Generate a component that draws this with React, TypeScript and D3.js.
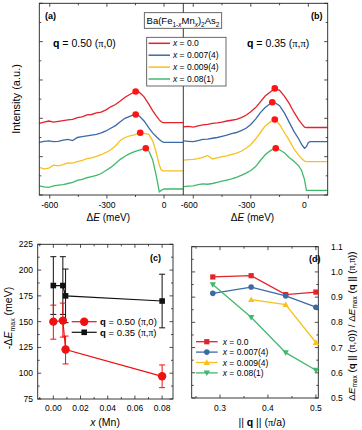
import React from 'react';
import * as d3 from 'd3';

// ---- panel (a) / (b): RIXS spectra, intensity in a.u. (offset curves)
const energyA = [-655, -630, -605, -580, -555, -530, -505, -480, -455, -430, -405, -380, -355, -330, -305, -280, -255, -230, -205, -180, -155, -130, -105, -80, -60, -40, -25, -15, -5, 0, 100];
const redA = [1.87, 1.9, 1.93, 1.9, 1.92, 1.94, 1.96, 1.97, 2.02, 2.04, 2.09, 2.1, 2.14, 2.16, 2.22, 2.3, 2.36, 2.45, 2.55, 2.62, 2.69, 2.68, 2.56, 2.37, 2.2, 2.06, 1.96, 1.91, 1.89, 1.886, 1.886];
const blueA = [1.37, 1.4, 1.41, 1.39, 1.4, 1.43, 1.45, 1.42, 1.5, 1.52, 1.54, 1.56, 1.58, 1.62, 1.67, 1.74, 1.81, 1.91, 2.0, 2.05, 2.1, 2.06, 1.93, 1.75, 1.62, 1.52, 1.45, 1.41, 1.38, 1.375, 1.375];
const yellowA = [0.72, 0.68, 0.7, 0.78, 0.76, 0.79, 0.84, 0.83, 0.87, 0.9, 0.95, 0.97, 1.01, 1.05, 1.11, 1.18, 1.28, 1.42, 1.5, 1.54, 1.57, 1.62, 1.61, 1.58, 1.42, 1.09, 0.78, 0.66, 0.63, 0.63, 0.63];
const greenA = [0.24, 0.21, 0.2, 0.24, 0.26, 0.27, 0.3, 0.33, 0.38, 0.41, 0.45, 0.48, 0.51, 0.56, 0.64, 0.72, 0.82, 0.93, 1.01, 1.08, 1.13, 1.17, 1.2, 1.15, 0.92, 0.48, 0.08, 0.12, 0.15, 0.157, 0.157];
const peakEA = [-149, -149, -125, -96];
const peakIA = [2.7, 2.1, 1.625, 1.22];

const energyB = [-650, -625, -600, -575, -550, -525, -500, -475, -450, -425, -400, -375, -350, -325, -300, -275, -250, -225, -200, -175, -150, -125, -100, -75, -50, -35, -20, -10, 0, 10, 100];
const redB = [1.78, 1.79, 1.77, 1.8, 1.83, 1.84, 1.87, 1.88, 1.9, 1.93, 1.95, 1.97, 2.02, 2.08, 2.17, 2.28, 2.43, 2.58, 2.68, 2.78, 2.73, 2.58, 2.39, 2.16, 1.96, 1.86, 1.77, 1.76, 1.76, 1.76, 1.76];
const blueB = [1.41, 1.4, 1.39, 1.42, 1.45, 1.46, 1.48, 1.5, 1.53, 1.56, 1.6, 1.63, 1.68, 1.74, 1.84, 1.98, 2.15, 2.28, 2.38, 2.41, 2.33, 2.14, 1.9, 1.66, 1.46, 1.32, 1.22, 1.26, 1.37, 1.39, 1.39];
const yellowB = [0.91, 0.92, 0.93, 0.95, 0.98, 1.03, 0.94, 0.97, 1.0, 1.02, 1.06, 1.09, 1.14, 1.22, 1.31, 1.46, 1.63, 1.8, 1.9, 1.97, 1.84, 1.63, 1.43, 1.2, 1.04, 0.95, 0.88, 0.87, 0.87, 0.87, 0.87];
const greenB = [0.22, 0.23, 0.24, 0.27, 0.29, 0.28, 0.3, 0.33, 0.36, 0.39, 0.42, 0.46, 0.51, 0.57, 0.64, 0.74, 0.9, 1.05, 1.15, 1.22, 1.18, 1.1, 0.98, 0.88, 0.76, 0.64, 0.4, 0.12, 0.12, 0.12, 0.12];
const peakEB = [-175, -188, -175, -170];
const peakIB = [2.78, 2.42, 1.97, 1.22];

const energyTicks = [-600, -300, 0];
const energyMinor = [-450, -150];

// ---- panel (c): peak position vs Mn content
const mnX = [0, 0.007, 0.009, 0.08];
const emaxPi0 = [150, 151, 123, 97];
const emaxPi0Lo = [133, 135, 109, 86];
const emaxPi0Hi = [166, 168, 136, 108];
const emaxPiPi = [185, 185, 175, 170];
const emaxPiPiLo = [157, 157, 149, 144];
const emaxPiPiHi = [213, 213, 201, 196];
const cYTicks = [75, 100, 125, 150, 175, 200, 225];
const cXTicks = [0, 0.02, 0.04, 0.06, 0.08];

// ---- panel (d): ratio vs |q|
const qNorm = [0.285, 0.365, 0.437, 0.5];
const ratio00 = [0.98, 0.985, 0.91, 0.92];
const ratio007 = [0.915, 0.94, 0.905, 0.86];
const ratio009 = [null, 0.89, 0.87, 0.72];
const ratio08 = [0.95, 0.82, 0.68, 0.61];
const dYTicks = [0.5, 0.6, 0.7, 0.8, 0.9, 1.0, 1.1];
const dXTicks = [0.3, 0.4, 0.5];

const dopings = ['0.0', '0.007(4)', '0.009(4)', '0.08(1)'];
const colors = ['#e4222a', '#3b6aa6', '#f8c020', '#41b96c'];

const FONT = 'Liberation Sans, Arial, sans-serif';
const PI = (s: string) => <tspan fontFamily="Liberation Serif, serif">{s}</tspan>;

const SpecPanel = ({ x0, x1, domain, energy, curves, peakE, peakI, side, tag, tagX, qText, qX, labelDx }: any) => {
  const y0 = 195, y1 = 3.3;
  const xs = d3.scaleLinear().domain(domain).range([x0, x1]);
  const ys = d3.scaleLinear().domain([0, 5]).range([y0, y1]);
  const line = d3.line<number>().x((_, i) => xs(energy[i])).y(d => ys(d));
  const clip = 'clip' + tag;
  const axX = side === 'left' ? x0 : x1;
  const dir = side === 'left' ? 1 : -1;
  return (
    <g>
      <defs><clipPath id={clip}><rect x={x0} y={y1} width={x1 - x0} height={y0 - y1} /></clipPath></defs>
      <g clipPath={`url(#${clip})`}>
        {curves.map((c: number[], i: number) => (
          <path key={i} d={line(c) || ''} fill="none" stroke={colors[i]} strokeWidth={1.3} />
        ))}
      </g>
      {peakE.map((e: number, i: number) => (
        <circle key={i} cx={xs(e)} cy={ys(peakI[i])} r={3.3} fill="#ff1414" />
      ))}
      {d3.range(0, 5.01, 0.5).map(v => (
        <line key={v} x1={axX} x2={axX + dir * (Number.isInteger(v) ? 3.5 : 2)} y1={ys(v)} y2={ys(v)} stroke="#222" strokeWidth={0.8} />
      ))}
      {energyTicks.concat(energyMinor).map(v => {
        const major = energyTicks.includes(v);
        return (
          <g key={v}>
            <line x1={xs(v)} x2={xs(v)} y1={y0} y2={y0 + (major ? 3.5 : 2)} stroke="#222" strokeWidth={0.8} />
            <line x1={xs(v)} x2={xs(v)} y1={y1} y2={y1 + (major ? 3.5 : 2)} stroke="#222" strokeWidth={0.8} />
          </g>
        );
      })}
      {energyTicks.map(v => (
        <text key={v} x={xs(v) + labelDx} y={208} textAnchor="middle" fontSize={8.5}>{v}</text>
      ))}
      <text x={(x0 + x1) / 2 - 3} y={221} textAnchor="middle" fontSize={10}>
        {'\u0394'}<tspan fontStyle="italic">E</tspan> (meV)
      </text>
      <text x={tagX} y={19} fontSize={9} fontWeight="bold">{tag}</text>
      <text x={qX} y={47} fontSize={10.5}>
        <tspan fontWeight="bold">q</tspan> = {qText}
      </text>
    </g>
  );
};

const App = () => {
  // panel (c)
  const cx = d3.scaleLinear().domain([-0.0115, 0.088]).range([37.7, 173]);
  const cy = d3.scaleLinear().domain([75, 225]).range([399, 244.3]);
  const cLine = d3.line<number>().x((_, i) => cx(mnX[i])).y(d => cy(d));

  // panel (d)
  const dx = d3.scaleLinear().domain([0.241, 0.505]).range([191.7, 318.3]);
  const dy = d3.scaleLinear().domain([0.5, 1.1]).range([398, 246.7]);
  const dLine = d3.line<number | null>().defined(d => d != null).x((_, i) => dx(qNorm[i])).y(d => dy(d as number));
  const dSeries = [ratio00, ratio007, ratio009, ratio08];

  const marker = (k: number, x: number, y: number, key?: any) => {
    const c = colors[k];
    if (k === 0) return <rect key={key} x={x - 2.6} y={y - 2.6} width={5.2} height={5.2} fill={c} />;
    if (k === 1) return <circle key={key} cx={x} cy={y} r={2.8} fill={c} />;
    if (k === 2) return <path key={key} d={`M${x},${y - 3.2}L${x + 3.2},${y + 2.4}L${x - 3.2},${y + 2.4}Z`} fill={c} />;
    return <path key={key} d={`M${x},${y + 3.2}L${x + 3.2},${y - 2.4}L${x - 3.2},${y - 2.4}Z`} fill={c} />;
  };

  const errBars = (vals: number[], lo: number[], hi: number[], col: string) =>
    mnX.map((m, i) => (
      <g key={i} stroke={col} strokeWidth={1}>
        <line x1={cx(m)} x2={cx(m)} y1={cy(lo[i])} y2={cy(hi[i])} />
        <line x1={cx(m) - 3} x2={cx(m) + 3} y1={cy(lo[i])} y2={cy(lo[i])} />
        <line x1={cx(m) - 3} x2={cx(m) + 3} y1={cy(hi[i])} y2={cy(hi[i])} />
      </g>
    ));

  return (
    <svg width={362} height={430} style={{ position: 'absolute', left: 0, top: 0, background: '#fff' }} fontFamily={FONT}>
      <rect width={362} height={430} fill="#fff" />

      {/* ---- spectra (a) and (b) ---- */}
      <SpecPanel x0={39.3} x1={183.3} domain={[-655, 101]} energy={energyA} curves={[redA, blueA, yellowA, greenA]}
        peakE={peakEA} peakI={peakIA} side="left" tag="(a)" tagX={45} qText={<>0.50 ({PI('\u03c0')},0)</>} qX={53} labelDx={0} />
      <SpecPanel x0={183.3} x1={327.7} domain={[-652, 101]} energy={energyB} curves={[redB, blueB, yellowB, greenB]}
        peakE={peakEB} peakI={peakIB} side="right" tag="(b)" tagX={311} qText={<>0.35 ({PI('\u03c0')},{PI('\u03c0')})</>} qX={247} labelDx={-4} />
      <rect x={39.3} y={3.3} width={288.4} height={191.7} fill="none" stroke="#222" strokeWidth={0.9} />
      <line x1={183.3} x2={183.3} y1={3.3} y2={195} stroke="#222" strokeWidth={0.9} />
      <text transform="translate(20,99) rotate(-90)" textAnchor="middle" fontSize={11}>Intensity (a.u.)</text>

      {/* compound title and legend */}
      <rect x={144.3} y={12.7} width={77.4} height={15.6} fill="#fff" stroke="#444" strokeWidth={0.8} />
      <text x={183} y={24} textAnchor="middle" fontSize={9.5}>
        Ba(Fe<tspan fontSize={6.5} dy={2.5}>1-<tspan fontStyle="italic">x</tspan></tspan>
        <tspan dy={-2.5}>Mn</tspan><tspan fontSize={6.5} dy={2.5} fontStyle="italic">x</tspan>
        <tspan dy={-2.5}>)</tspan><tspan fontSize={6.5} dy={2.5}>2</tspan>
        <tspan dy={-2.5}>As</tspan><tspan fontSize={6.5} dy={2.5}>2</tspan>
      </text>
      <rect x={146.7} y={37.3} width={79.3} height={48.7} fill="#fff" stroke="#444" strokeWidth={0.8} />
      {dopings.map((d, i) => {
        const y = 43.3 + i * 11.9;
        return (
          <g key={d}>
            <line x1={148.5} x2={170} y1={y} y2={y} stroke={colors[i]} strokeWidth={1.5} />
            <text x={173} y={y + 3} fontSize={8.5}><tspan fontStyle="italic">x</tspan> = {d}</text>
          </g>
        );
      })}

      {/* ---- panel (c) ---- */}
      <rect x={37.7} y={244.3} width={135.3} height={154.7} fill="none" stroke="#222" strokeWidth={0.9} />
      {d3.range(75, 225.1, 12.5).map(v => {
        const major = cYTicks.includes(v);
        return (
          <g key={v} stroke="#222" strokeWidth={0.8}>
            <line x1={37.7} x2={37.7 + (major ? 3.5 : 2)} y1={cy(v)} y2={cy(v)} />
            <line x1={173} x2={173 - (major ? 3.5 : 2)} y1={cy(v)} y2={cy(v)} />
          </g>
        );
      })}
      {cYTicks.map(v => <text key={v} x={33} y={cy(v) + 3} textAnchor="end" fontSize={8.5}>{v}</text>)}
      {d3.range(-0.01, 0.0861, 0.01).map(v => {
        const major = cXTicks.some(t => Math.abs(t - v) < 1e-6);
        return (
          <g key={v} stroke="#222" strokeWidth={0.8}>
            <line x1={cx(v)} x2={cx(v)} y1={399} y2={399 - (major ? 3.5 : 2)} />
            <line x1={cx(v)} x2={cx(v)} y1={244.3} y2={244.3 + (major ? 3.5 : 2)} />
          </g>
        );
      })}
      {cXTicks.map(v => <text key={v} x={cx(v)} y={411} textAnchor="middle" fontSize={8.5}>{v.toFixed(2)}</text>)}
      <text x={105} y={426} textAnchor="middle" fontSize={10.5}><tspan fontStyle="italic">x</tspan> (Mn)</text>
      <text transform="translate(12,318) rotate(-90)" textAnchor="middle" fontSize={10.5}>
        -{'\u0394'}<tspan fontStyle="italic">E</tspan><tspan fontSize={7} dy={2.5}>max</tspan><tspan dy={-2.5}>  (meV)</tspan>
      </text>
      <text x={150} y={261} fontSize={9} fontWeight="bold">(c)</text>

      <path d={cLine(emaxPiPi) || ''} fill="none" stroke="#111" strokeWidth={1.2} />
      {errBars(emaxPiPi, emaxPiPiLo, emaxPiPiHi, '#111')}
      {mnX.map((m, i) => <rect key={i} x={cx(m) - 2.8} y={cy(emaxPiPi[i]) - 2.8} width={5.6} height={5.6} fill="#111" />)}
      <path d={cLine(emaxPi0) || ''} fill="none" stroke="#f01010" strokeWidth={1.2} />
      {errBars(emaxPi0, emaxPi0Lo, emaxPi0Hi, '#f01010')}
      {mnX.map((m, i) => <circle key={i} cx={cx(m)} cy={cy(emaxPi0[i])} r={4.2} fill="#f01010" />)}

      <line x1={71.7} x2={96.7} y1={321.7} y2={321.7} stroke="#f01010" strokeWidth={1.2} />
      <circle cx={84.2} cy={321.7} r={4.2} fill="#f01010" />
      <text x={100} y={325} fontSize={9.5}><tspan fontWeight="bold">q</tspan> = 0.50 ({PI('\u03c0')},0)</text>
      <line x1={71.7} x2={96.7} y1={332.3} y2={332.3} stroke="#111" strokeWidth={1.2} />
      <rect x={81.4} y={329.5} width={5.6} height={5.6} fill="#111" />
      <text x={100} y={335.6} fontSize={9.5}><tspan fontWeight="bold">q</tspan> = 0.35 ({PI('\u03c0')},{PI('\u03c0')})</text>

      {/* ---- panel (d) ---- */}
      <rect x={191.7} y={246.7} width={126.6} height={151.3} fill="none" stroke="#222" strokeWidth={0.9} />
      {d3.range(0.5, 1.101, 0.05).map(v => {
        const major = Math.abs(v * 10 - Math.round(v * 10)) < 1e-6;
        return (
          <g key={v} stroke="#222" strokeWidth={0.8}>
            <line x1={191.7} x2={191.7 + (major ? 3.5 : 2)} y1={dy(v)} y2={dy(v)} />
            <line x1={318.3} x2={318.3 - (major ? 3.5 : 2)} y1={dy(v)} y2={dy(v)} />
          </g>
        );
      })}
      {dYTicks.map(v => <text key={v} x={331} y={dy(v) + 3} fontSize={8.5}>{v.toFixed(1)}</text>)}
      {d3.range(0.25, 0.501, 0.05).map(v => {
        const major = dXTicks.some(t => Math.abs(t - v) < 1e-6);
        return (
          <g key={v} stroke="#222" strokeWidth={0.8}>
            <line x1={dx(v)} x2={dx(v)} y1={398} y2={398 - (major ? 3.5 : 2)} />
            <line x1={dx(v)} x2={dx(v)} y1={246.7} y2={246.7 + (major ? 3.5 : 2)} />
          </g>
        );
      })}
      {dXTicks.map(v => <text key={v} x={dx(v)} y={411} textAnchor="middle" fontSize={8.5}>{v.toFixed(1)}</text>)}
      <text x={262} y={426} textAnchor="middle" fontSize={10.5}>|| <tspan fontWeight="bold">q</tspan> || ({PI('\u03c0')}/a)</text>
      <text transform="translate(355,326) rotate(-90)" textAnchor="middle" fontSize={9.8}>
        {'\u0394'}<tspan fontStyle="italic">E</tspan><tspan fontSize={6.5} dy={2}>max</tspan>
        <tspan dy={-2}> (</tspan><tspan fontWeight="bold">q</tspan> || ({PI('\u03c0')},0))  /  {'\u0394'}<tspan fontStyle="italic">E</tspan>
        <tspan fontSize={6.5} dy={2}>max</tspan><tspan dy={-2}> (</tspan><tspan fontWeight="bold">q</tspan> || ({PI('\u03c0')},{PI('\u03c0')}))
      </text>
      <text x={309} y={262} fontSize={9} fontWeight="bold">(d)</text>

      {dSeries.map((s, k) => (
        <g key={k}>
          <path d={dLine(s) || ''} fill="none" stroke={colors[k]} strokeWidth={1.3} />
          {s.map((v, i) => (v == null ? null : marker(k, dx(qNorm[i]), dy(v), i)))}
        </g>
      ))}
      {dopings.map((d, k) => {
        const y = 341.7 + k * 10.4;
        return (
          <g key={d}>
            <line x1={196} x2={217.7} y1={y} y2={y} stroke={colors[k]} strokeWidth={1.3} />
            {marker(k, 206.8, y)}
            <text x={222.7} y={y + 3} fontSize={8.5}><tspan fontStyle="italic">x</tspan> = {d}</text>
          </g>
        );
      })}
    </svg>
  );
};

export default App;
